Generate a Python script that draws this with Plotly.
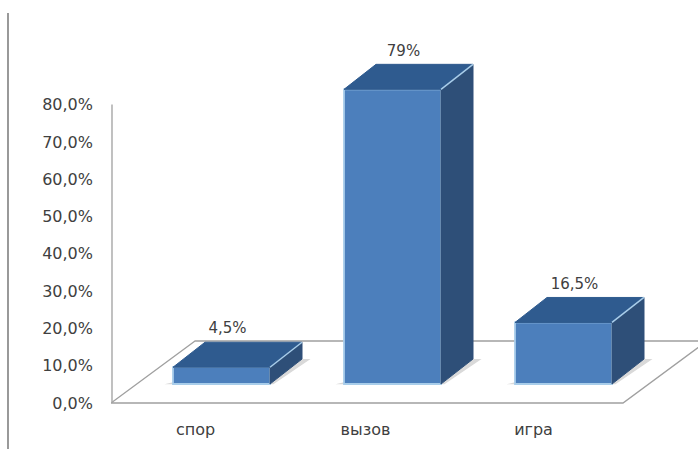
import plotly.graph_objects as go

categories = ["спор", "вызов", "игра"]
values = [4.5, 79, 16.5]
value_labels = ["4,5%", "79%", "16,5%"]
tick_values = [0, 10, 20, 30, 40, 50, 60, 70, 80]
tick_labels = ["0,0%", "10,0%", "20,0%", "30,0%", "40,0%", "50,0%", "60,0%", "70,0%", "80,0%"]

W, H = 698, 449
PX_X = 171.0
PX_Y = 3.73
FRONT = "#4c7fbc"
TOP_FACE = "#2f5b8f"
SIDE_FACE = "#2e4f78"
EDGE = "#a8cdea"
TEXT = "#404040"
FONT = "DejaVu Sans"
LABEL_SHIFT_PX = [6, 11, 11]
TICK_SHIFT_PX = [-26, -27, -30]

x0 = 221.5
x_range = [(111 - x0) / PX_X, (W - x0) / PX_X]
y_bottom_px, y_top_px = 416, 0
zero_px = 403
y_range = [(zero_px - y_bottom_px) / PX_Y, (zero_px - y_top_px) / PX_Y]

base = 19 / PX_Y
bar_w = 97 / PX_X
dx = 32 / PX_X
dy = 25 / PX_Y
pos = list(range(len(categories)))

fig = go.Figure()
shapes = []


def poly(xs, ys):
    pts = [f"{a},{b}" for a, b in zip(xs, ys)]
    return "M" + " L".join(pts) + " Z"


# floor and wall, below the bars
fx0, fx1 = x_range[0], (623 - x0) / PX_X
fdx = 84 / PX_X
fdy = 62 / PX_Y
shapes.append(dict(type="path", layer="below", xref="x", yref="y",
                   path=poly([fx0 + fdx, fx0, fx1, fx1 + fdx], [fdy, 0, 0, fdy]),
                   line=dict(color="#a0a0a0", width=1.4)))
shapes.append(dict(type="line", layer="below", xref="x", yref="y",
                   x0=fx0 + 1 / PX_X, x1=fx0 + 1 / PX_X, y0=0, y1=80,
                   line=dict(color="#a6a6a6", width=1.4)))

for i, v in zip(pos, values):
    l, r = i - bar_w / 2, i + bar_w / 2
    b, t = base, base + v
    # soft floor shadow behind the box
    shapes.append(dict(type="path", layer="below", xref="x", yref="y",
                       path=poly([r, r + dx, r + dx + 0.05, r + 0.02, l - 0.05, l],
                                 [b, b + dy, b + dy, b - 0.1, b - 0.1, b + 0.5]),
                       fillcolor="#d9d9d9", line=dict(width=0)))
    fig.add_trace(go.Scatter(
        x=[l, l + dx, r + dx, r, l], y=[t, t + dy, t + dy, t, t],
        mode="lines", fill="toself", fillcolor=TOP_FACE,
        line=dict(color=TOP_FACE, width=1), hoverinfo="skip", showlegend=False))
    fig.add_trace(go.Scatter(
        x=[r, r + dx, r + dx, r, r], y=[b, b + dy, t + dy, t, b],
        mode="lines", fill="toself", fillcolor=SIDE_FACE,
        line=dict(color=SIDE_FACE, width=1), hoverinfo="skip", showlegend=False))
    fig.add_trace(go.Scatter(
        x=[r, r + dx], y=[t, t + dy], mode="lines",
        line=dict(color=EDGE, width=1.5), hoverinfo="skip", showlegend=False))

fig.add_trace(go.Bar(
    x=pos, y=values, base=[base] * len(values), width=bar_w,
    marker=dict(color=FRONT, line=dict(color=EDGE, width=1.8)),
    hoverinfo="skip", showlegend=False))

# value labels above the box tops
fig.add_trace(go.Scatter(
    x=[i + s / PX_X for i, s in zip(pos, LABEL_SHIFT_PX)],
    y=[base + v + dy + 12.5 / PX_Y for v in values],
    mode="text", text=value_labels, textposition="middle center",
    textfont=dict(family=FONT, size=15, color=TEXT), hoverinfo="skip", showlegend=False))

fig.update_xaxes(
    range=x_range, tickmode="array",
    tickvals=[i + s / PX_X for i, s in zip(pos, TICK_SHIFT_PX)], ticktext=categories,
    showgrid=False, zeroline=False, showline=False, ticks="", ticklen=0, ticklabelstandoff=2,
    tickfont=dict(family=FONT, size=16, color=TEXT))
fig.update_yaxes(
    range=y_range, tickmode="array", tickvals=tick_values, ticktext=tick_labels,
    showgrid=False, zeroline=False, showline=False, ticks="", ticklabelstandoff=17,
    tickfont=dict(family=FONT, size=16, color=TEXT))

shapes.append(dict(type="line", xref="paper", yref="paper",
                   x0=-103 / (W - 111), x1=-103 / (W - 111), y0=-0.2, y1=1 - 13 / 416,
                   line=dict(color="#808080", width=1.6)))

fig.update_layout(
    width=W, height=H, autosize=False, barmode="overlay",
    paper_bgcolor="white", plot_bgcolor="rgba(0,0,0,0)",
    margin=dict(l=111, r=0, t=0, b=H - y_bottom_px, autoexpand=False),
    shapes=shapes)

fig.write_html("out.html", config={"displayModeBar": False},
               post_script="document.body.style.margin='0';document.body.style.overflow='hidden';")
